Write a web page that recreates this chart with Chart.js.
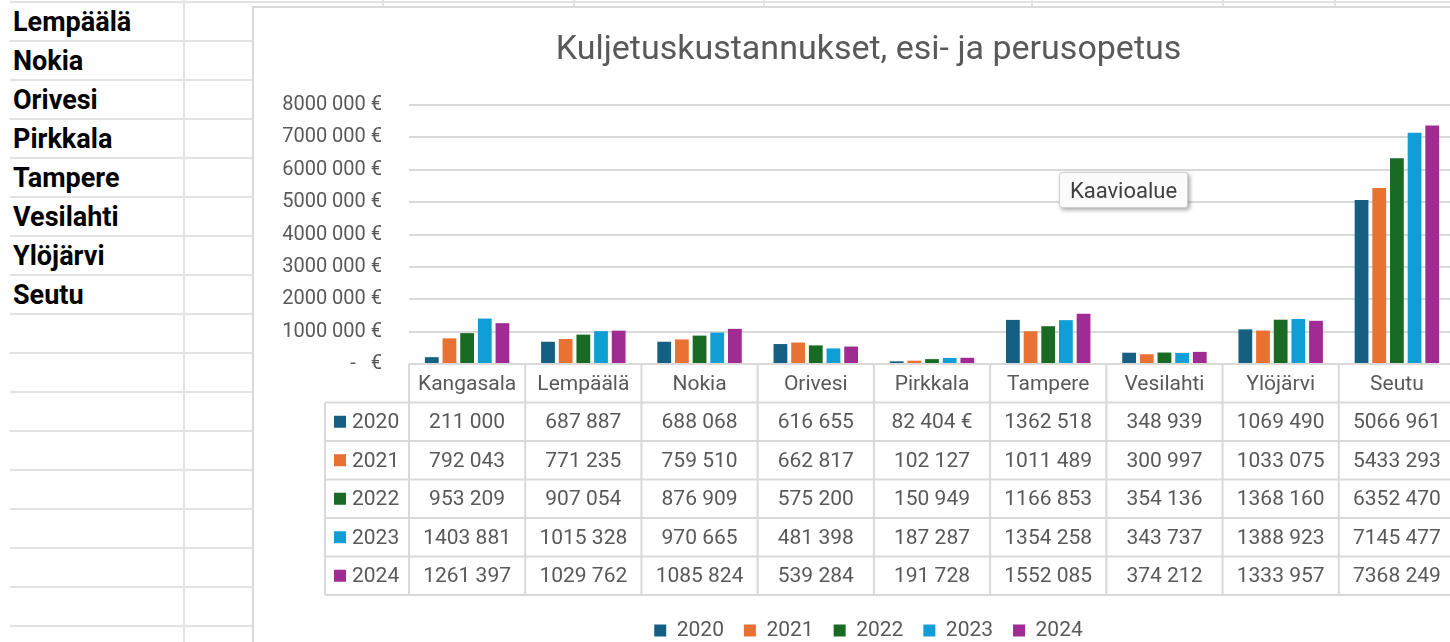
<!DOCTYPE html>
<html><head><meta charset="utf-8">
<script src="https://cdn.jsdelivr.net/npm/chart.js@4.4.0/dist/chart.umd.min.js"></script>
<style>
html,body{margin:0;padding:0;width:1450px;height:642px;overflow:hidden;background:#fff;font-family:Roboto,sans-serif;}
#sheet{position:absolute;left:0;top:0;width:1450px;height:642px;}
.hl{position:absolute;height:2px;background:#e3e3e3;}
.vl{position:absolute;width:2px;background:#e3e3e3;}
.name{position:absolute;left:13px;height:39px;line-height:41px;font-weight:bold;font-size:27px;color:#000;}
#chartBox{position:absolute;left:252px;top:6px;width:1250px;height:680px;border:2px solid #d9d9d9;background:#fff;}
#c{position:absolute;left:8px;top:0px;}
#tip{position:absolute;left:1059px;top:172px;width:127px;height:34px;background:#fbfbfb;border:1px solid #d0d0d0;border-radius:3px;box-shadow:2px 2px 4px rgba(0,0,0,0.35);font-size:22px;color:#404040;line-height:35px;text-align:center;}
</style></head>
<body>
<div id="sheet"></div>
<div id="chartBox"><canvas id="c" width="1193" height="643"></canvas></div>
<div id="tip">Kaavioalue</div>
<script>
const sheetNames = ['Lempäälä','Nokia','Orivesi','Pirkkala','Tampere','Vesilahti','Ylöjärvi','Seutu'];
const categories = ['Kangasala','Lempäälä','Nokia','Orivesi','Pirkkala','Tampere','Vesilahti','Ylöjärvi','Seutu'];
const years = ['2020','2021','2022','2023','2024'];
const v2020 = [211000, 687887, 688068, 616655, 82404, 1362518, 348939, 1069490, 5066961];
const v2021 = [792043, 771235, 759510, 662817, 102127, 1011489, 300997, 1033075, 5433293];
const v2022 = [953209, 907054, 876909, 575200, 150949, 1166853, 354136, 1368160, 6352470];
const v2023 = [1403881, 1015328, 970665, 481398, 187287, 1354258, 343737, 1388923, 7145477];
const v2024 = [1261397, 1029762, 1085824, 539284, 191728, 1552085, 374212, 1333957, 7368249];
const yTickLabels = ['-   €','1000 000 €','2000 000 €','3000 000 €','4000 000 €','5000 000 €','6000 000 €','7000 000 €','8000 000 €'];
const euroCells = ['2020|Pirkkala'];
const colors = ['#156082','#E97132','#196B24','#0F9ED5','#A02B93'];
const seriesValues = [v2020, v2021, v2022, v2023, v2024];

// spreadsheet background
const sheet = document.getElementById('sheet');
for (let k = 0; k < 17; k++) {
  const d = document.createElement('div'); d.className = 'hl';
  d.style.left = '10px'; d.style.width = '1440px'; d.style.top = (1 + 39 * k) + 'px';
  sheet.appendChild(d);
}
[183, 382, 573, 763, 1031, 1222, 1334].forEach(x => {
  const d = document.createElement('div'); d.className = 'vl';
  d.style.left = x + 'px'; d.style.top = '0px'; d.style.height = '642px';
  sheet.appendChild(d);
});
sheetNames.forEach((n, i) => {
  const d = document.createElement('div'); d.className = 'name';
  d.style.top = (2 + 39 * i) + 'px'; d.textContent = n;
  sheet.appendChild(d);
});

function fmt(v, key) {
  const s = String(v);
  let out = s.length > 3 ? s.slice(0, -3) + ' ' + s.slice(-3) : s;
  if (euroCells.includes(key)) out += ' €';
  return out;
}

const textColor = '#595959';
const gridColor = '#d9d9d9';

const tablePlugin = {
  id: 'dataTable',
  afterDraw(chart) {
    const {ctx, chartArea, scales: {x}} = chart;
    const y0 = chartArea.bottom;
    const step = x.getPixelForValue(1) - x.getPixelForValue(0);
    const edges = categories.map((c, i) => x.getPixelForValue(i) - step / 2);
    edges.push(x.getPixelForValue(categories.length - 1) + step / 2);
    const headerH = 38.5, rowH = 38.5;
    const leftEdge = edges[0] - 84;
    const bottom = y0 + headerH + rowH * years.length;
    ctx.save();
    ctx.strokeStyle = gridColor; ctx.lineWidth = 2;
    ctx.beginPath();
    ctx.moveTo(edges[0], y0); ctx.lineTo(edges[edges.length - 1] + 20, y0);
    for (let r = 0; r <= years.length; r++) {
      const yy = y0 + headerH + rowH * r;
      ctx.moveTo(leftEdge, yy); ctx.lineTo(edges[edges.length - 1] + 20, yy);
    }
    ctx.moveTo(leftEdge, y0 + headerH); ctx.lineTo(leftEdge, bottom);
    edges.forEach(e => { ctx.moveTo(e, y0); ctx.lineTo(e, bottom); });
    ctx.stroke();
    ctx.fillStyle = textColor;
    ctx.font = '21px Roboto';
    ctx.textAlign = 'center'; ctx.textBaseline = 'middle';
    categories.forEach((c, i) => {
      ctx.fillText(c, x.getPixelForValue(i), y0 + headerH / 2 + 1);
    });
    years.forEach((yr, r) => {
      const cy = y0 + headerH + rowH * r + rowH / 2 + 1;
      seriesValues[r].forEach((v, i) => {
        ctx.fillText(fmt(v, yr + '|' + categories[i]), x.getPixelForValue(i), cy);
      });
      ctx.fillStyle = colors[r];
      ctx.fillRect(leftEdge + 9, cy - 7, 12, 12);
      ctx.fillStyle = textColor;
      ctx.textAlign = 'left';
      ctx.fillText(yr, leftEdge + 27, cy);
      ctx.textAlign = 'center';
    });
    ctx.restore();
  }
};

Chart.defaults.font.family = 'Roboto';
Chart.defaults.color = textColor;

new Chart(document.getElementById('c'), {
  type: 'bar',
  data: {
    labels: categories,
    datasets: years.map((yr, i) => ({
      label: yr,
      data: seriesValues[i],
      backgroundColor: colors[i],
      borderWidth: 0,
      categoryPercentage: 0.76,
      barPercentage: 0.78
    }))
  },
  options: {
    responsive: false,
    animation: false,
    devicePixelRatio: 1,
    layout: {padding: {left: 20, right: 0, top: 0, bottom: 0}},
    plugins: {
      title: {
        display: true,
        text: 'Kuljetuskustannukset, esi- ja perusopetus',
        color: textColor,
        font: {size: 34, weight: 'normal'},
        padding: {top: 22, bottom: 34.2}
      },
      legend: {
        position: 'bottom',
        labels: {boxWidth: 12, boxHeight: 12, padding: 20, color: textColor, font: {size: 21}}
      },
      tooltip: {enabled: false}
    },
    scales: {
      x: {
        ticks: {display: false},
        grid: {display: false},
        border: {display: false},
        afterFit(scale) { scale.height = 236; }
      },
      y: {
        min: 0, max: 8000000,
        ticks: {stepSize: 1000000, padding: 27, font: {size: 20}, color: textColor,
          callback: (v, i) => yTickLabels[i]},
        grid: {color: gridColor, lineWidth: 2, drawTicks: false},
        border: {display: false},
        afterFit(scale) { scale.width = 127; }
      }
    }
  },
  plugins: [tablePlugin]
});
</script>
</body></html>
